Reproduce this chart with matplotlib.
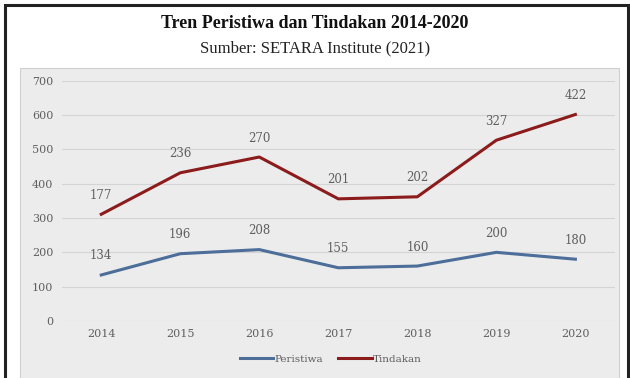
import matplotlib.pyplot as plt
import numpy as np
from matplotlib.patches import Rectangle

# Data
years = ["2014", "2015", "2016", "2017", "2018", "2019", "2020"]
peristiwa = [134, 196, 208, 155, 160, 200, 180]
tindakan = [177, 236, 270, 201, 202, 327, 422]

# stacked line: Tindakan drawn on top of Peristiwa
x = np.arange(len(years))
stack_top = np.array(peristiwa) + np.array(tindakan)

blue = "#4c6e99"
red = "#8c1c1c"
grey_txt = "#5f5f5f"

fig = plt.figure(figsize=(6.3, 3.78), dpi=100)

# outer frame and chart area
fig.patches.append(Rectangle((0.008, -0.01), 0.989, 0.998, transform=fig.transFigure,
                             fill=False, edgecolor="#222222", linewidth=2.2, zorder=-10))
fig.patches.append(Rectangle((0.032, -0.01), 0.95, 0.83, transform=fig.transFigure,
                             facecolor="#ececec", edgecolor="#d0d0d0", linewidth=0.8, zorder=-10))

fig.text(0.5, 0.937, "Tren Peristiwa dan Tindakan 2014-2020", ha="center", va="center",
         family="Liberation Serif", fontweight="bold", fontsize=13, color="#111111")
fig.text(0.5, 0.873, "Sumber: SETARA Institute (2021)", ha="center", va="center",
         family="Liberation Serif", fontsize=12, color="#222222")

ax = fig.add_axes([0.098, 0.151, 0.878, 0.635])
ax.set_facecolor("none")

ax.plot(x, peristiwa, color=blue, linewidth=2.2, label="Peristiwa", zorder=3)
ax.plot(x, stack_top, color=red, linewidth=2.2, label="Tindakan", zorder=3)

for i in range(len(years)):
    ax.annotate(str(peristiwa[i]), (x[i], peristiwa[i]), xytext=(0, 9), textcoords="offset points",
                ha="center", va="bottom", fontsize=8.5, color=grey_txt, family="DejaVu Serif")
    ax.annotate(str(tindakan[i]), (x[i], stack_top[i]), xytext=(0, 9), textcoords="offset points",
                ha="center", va="bottom", fontsize=8.5, color=grey_txt, family="DejaVu Serif")

ax.set_xlim(-0.5, 6.5)
ax.set_ylim(0, 700)
ax.set_yticks(range(0, 701, 100))
ax.set_xticks(x)
ax.set_xticklabels(years)
ax.grid(axis="y", color="#d4d4d4", linewidth=0.8)
ax.set_axisbelow(True)
for s in ax.spines.values():
    s.set_visible(False)
ax.tick_params(length=0, labelsize=8, labelcolor=grey_txt, pad=6)
for lbl in ax.get_xticklabels() + ax.get_yticklabels():
    lbl.set_family("DejaVu Serif")

leg = fig.legend(loc="center", bbox_to_anchor=(0.525, 0.05), ncol=2, frameon=False,
                 prop={"family": "DejaVu Serif", "size": 7.5}, handlelength=3.2,
                 handletextpad=0.1, columnspacing=1.5)
for t in leg.get_texts():
    t.set_color(grey_txt)

fig.savefig("out.png", dpi=100)
